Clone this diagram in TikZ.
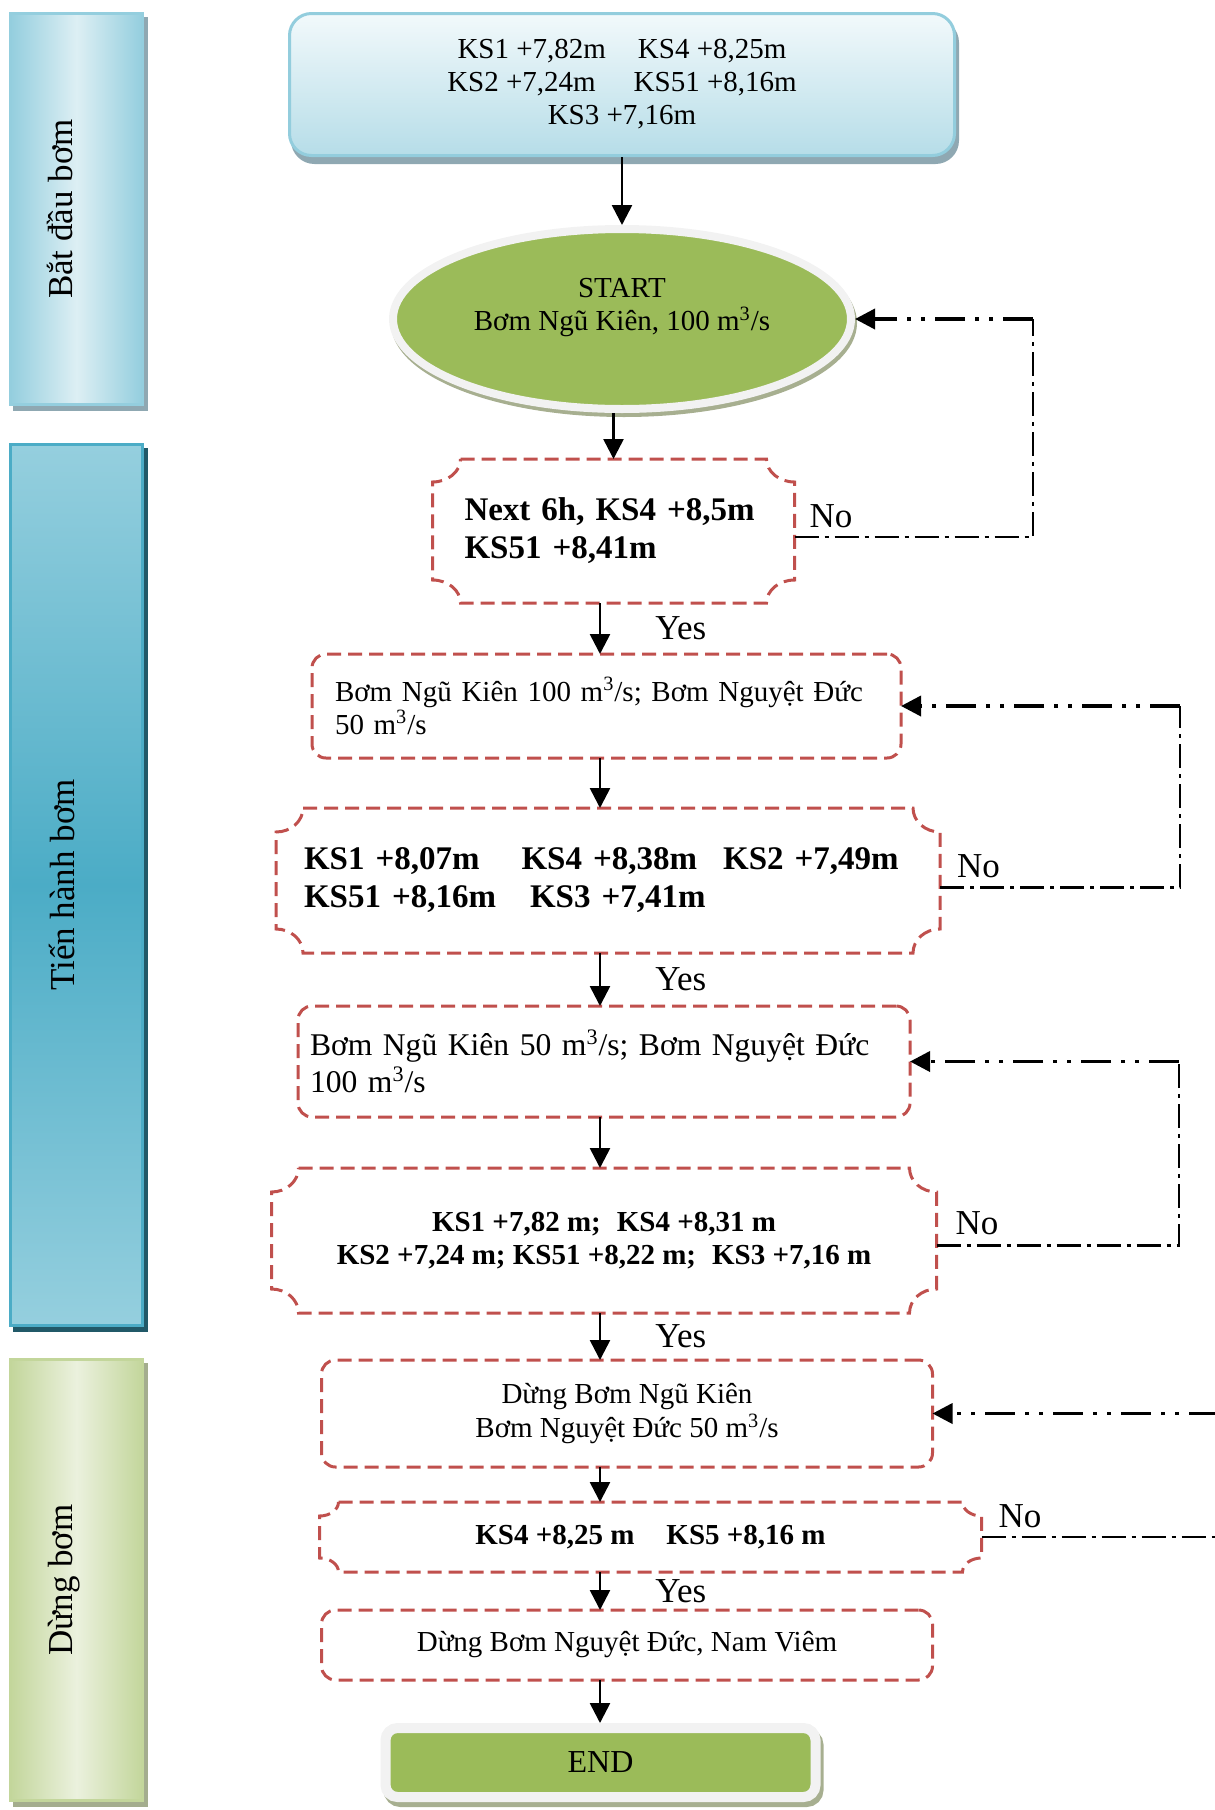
\documentclass[tikz,border=0pt]{standalone}
\usepackage{fontspec}
\setmainfont{Liberation Serif}
\usetikzlibrary{arrows.meta,positioning,shapes.geometric}
\usepackage{xcolor}
\definecolor{topedge}{HTML}{93CDDD}
\definecolor{toplight}{HTML}{F2F9FB}
\definecolor{topdark}{HTML}{B6DDE8}
\definecolor{topshadow}{HTML}{8FA8B2}
\definecolor{leafgreen}{HTML}{9BBB59}
\definecolor{rimgray}{HTML}{F2F2F2}
\definecolor{leafshadow}{HTML}{A7AF90}
\definecolor{checkred}{HTML}{C0504D}
\definecolor{phaseAedge}{HTML}{94CEDE}
\definecolor{phaseAlight}{HTML}{DDEFF4}
\definecolor{phaseBedge}{HTML}{4BACC6}
\definecolor{phaseBlight}{HTML}{95CFDE}
\definecolor{phaseBshadow}{HTML}{215968}
\definecolor{phaseCedge}{HTML}{C3D69B}
\definecolor{phaseClight}{HTML}{EBF1DE}
\definecolor{phaseCshadow}{HTML}{A4AD8E}

% dashed frame with concave corners round a check node
\newcommand{\plaqueframe}[3]{%
  \draw[plaqueline] ([xshift=#2]#1.north west) -- ([xshift=-#2]#1.north east)
    arc[start angle=180, end angle=270, x radius=#2, y radius=#3]
    -- ([yshift=#3]#1.south east)
    arc[start angle=90, end angle=180, x radius=#2, y radius=#3]
    -- ([xshift=#2]#1.south west)
    arc[start angle=0, end angle=90, x radius=#2, y radius=#3]
    -- ([yshift=-#3]#1.north west)
    arc[start angle=-90, end angle=0, x radius=#2, y radius=#3] -- cycle;}

\begin{document}
\begin{tikzpicture}[
  font=\fontsize{14.5}{16.5}\selectfont,
  phase/.style={draw, line width=1.5pt, minimum width=66pt},
  phaseshadow/.style={preaction={fill=#1, draw=#1, line width=1.5pt,
                      transform canvas={shift={(2pt,-2.5pt)}}}},
  phasetxt/.style={rotate=90, anchor=base, inner sep=0pt,
                   font=\fontsize{17.5}{20}\selectfont},
  levels/.style={draw=topedge, line width=1.5pt, rounded corners=11pt,
                 top color=toplight, bottom color=topdark, align=center,
                 minimum width=332.5pt, minimum height=71pt,
                 preaction={fill=topshadow, draw=topshadow, line width=1.5pt,
                            transform canvas={shift={(1.5pt,-3.5pt)}}}},
  startnode/.style={ellipse, fill=leafgreen, draw=rimgray, line width=4pt,
                    minimum width=229pt, minimum height=90pt, align=center,
                    preaction={fill=leafshadow, draw=leafshadow, line width=4pt,
                               transform canvas={shift={(1pt,-2pt)}}}},
  check/.style={rectangle, outer sep=0pt, inner ysep=2pt,
                font=\bfseries\fontsize{16.5}{19}\selectfont},
  act/.style={draw=checkred, line width=1.5pt, dash pattern=on 7pt off 3.5pt,
              rounded corners=7pt, outer sep=0pt, inner ysep=2pt},
  plaqueline/.style={draw=checkred, line width=1.5pt,
                     dash pattern=on 7pt off 3.5pt},
  finishnode/.style={rectangle, rounded corners=6pt, fill=leafgreen,
                     draw=rimgray, line width=5pt, minimum width=215pt,
                     minimum height=34.5pt, font=\fontsize{16}{18}\selectfont,
                     preaction={fill=leafshadow, draw=leafshadow, line width=5pt,
                                transform canvas={shift={(1.5pt,-2.5pt)}}}},
  flow/.style={-{Triangle[length=10pt, width=10pt]}, line width=1.3pt},
  back/.style={line width=1.2pt, dash pattern=on 12pt off 3pt on 2pt off 3pt},
  backin/.style={-{Triangle[length=10pt, width=10pt]}, line width=1.8pt,
                 dash pattern=on 15pt off 5pt on 2pt off 5pt on 2pt off 5pt},
  lbl/.style={inner sep=0pt, font=\fontsize{17.5}{20}\selectfont},
]
\useasboundingbox (0,0) rectangle (607.5pt,-905pt);

% phase bands
\node[phase, draw=phaseAedge, minimum height=195.5pt, phaseshadow=topshadow,
      left color=phaseAedge, right color=phaseAedge, middle color=phaseAlight]
      (phase1) at (38.25pt,-104.5pt) {};
\node[phase, draw=phaseBedge, minimum height=440.5pt, phaseshadow=phaseBshadow,
      top color=phaseBlight, bottom color=phaseBlight, middle color=phaseBedge,
      below=18.5pt of phase1] (phase2) {};
\node[phase, draw=phaseCedge, minimum height=220.5pt, phaseshadow=phaseCshadow,
      left color=phaseCedge, right color=phaseCedge, middle color=phaseClight,
      below=15.5pt of phase2] (phase3) {};
\node[phasetxt] (phase1txt) at ([xshift=-2pt]phase1.center) {Bắt đầu bơm};
\node[phasetxt] (phase2txt) at ([xshift=-1pt]phase2.center) {Tiến hành bơm};
\node[phasetxt] (phase3txt) at ([xshift=-2pt]phase3.center) {Dừng bơm};

% main column
\node[levels] (top) at (311pt,-42.25pt)
  {KS1 +7,82m\hspace{16pt}KS4 +8,25m\\KS2 +7,24m\hspace{19pt}KS51 +8,16m\\KS3 +7,16m};
\node[startnode, below=34pt of top] (start)
  {START\\Bơm Ngũ Kiên, 100 m\textsuperscript{3}/s\\[-2pt]\mbox{}};
\node[check, align=left, text width=149pt, inner xsep=16pt, minimum height=72pt,
      below=23pt of start, xshift=-4.25pt] (dec1)
  {Next 6h, KS4 +8,5m\\KS51 +8,41m};
\node[act, align=left, text width=271.5pt, inner xsep=11.5pt, minimum height=52pt,
      below=25.5pt of dec1, xshift=-3.5pt] (box2)
  {Bơm Ngũ Kiên 100 m\textsuperscript{3}/s; Bơm Nguyệt Đức\\50 m\textsuperscript{3}/s};
\node[check, align=left, text width=304pt, inner xsep=14pt, minimum height=72.5pt,
      below=25pt of box2, xshift=0.75pt] (dec2)
  {KS1 +8,07m\hspace{21pt}KS4 +8,38m\hspace{13pt}KS2 +7,49m\\KS51 +8,16m\hspace{17pt}KS3 +7,41m};
\node[act, align=left, text width=294pt, inner xsep=6pt, minimum height=55.5pt,
      font=\fontsize{15.8}{18.5}\selectfont,
      below=26.5pt of dec2, xshift=-2pt] (box3)
  {\mbox{Bơm Ngũ Kiên 50 m\textsuperscript{3}/s; Bơm Nguyệt Đức}\\100 m\textsuperscript{3}/s};
\node[check, align=center, minimum width=332.5pt, minimum height=72.5pt,
      font=\bfseries\fontsize{14.5}{16.5}\selectfont,
      below=25.5pt of box3] (dec3)
  {KS1 +7,82 m;\hspace{8pt}KS4 +8,31 m\\KS2 +7,24 m; KS51 +8,22 m;\hspace{8pt}KS3 +7,16 m};
\node[act, align=center, minimum width=305.5pt, minimum height=53.5pt,
      font=\fontsize{14.5}{17}\selectfont,
      below=23.5pt of dec3, xshift=11.5pt] (box4)
  {Dừng Bơm Ngũ Kiên\\Bơm Nguyệt Đức 50 m\textsuperscript{3}/s};
\node[check, align=center, minimum width=331pt, minimum height=35pt,
      font=\bfseries\fontsize{14.5}{16.5}\selectfont,
      below=17.5pt of box4, xshift=11.75pt] (dec4)
  {KS4 +8,25 m\hspace{16pt}KS5 +8,16 m};
\node[act, align=center, minimum width=305.5pt, minimum height=35pt,
      below=19pt of dec4, xshift=-11.75pt] (box5)
  {Dừng Bơm Nguyệt Đức, Nam Viêm};
\node[finishnode, below=21.5pt of box5, xshift=-13.25pt] (finish) {END};

\plaqueframe{dec1}{14pt}{11.5pt}
\plaqueframe{dec2}{13.5pt}{12pt}
\plaqueframe{dec3}{13.5pt}{12pt}
\plaqueframe{dec4}{9.5pt}{7pt}

% downward flow
\coordinate (axis) at (300pt,0);
\draw[flow] (top) -- (start);
\draw[flow] (start.south -| dec1.north) -- (dec1.north);
\foreach \a/\b in {box2/dec2, box3/dec3, box4/dec4, box5/finish}
  \draw[flow] (\a.south -| axis) -- (\b.north -| axis);
\foreach \a/\b in {dec1/box2, dec2/box3, dec3/box4, dec4/box5}
  \draw[flow] (\a.south -| axis) -- node[lbl, right=27pt] {Yes} (\b.north -| axis);

% loops back on "No"
\coordinate[right=89pt of start.east] (fb1);
\coordinate[right=139.5pt of box2.east] (fb2);
\coordinate[right=134.5pt of box3.east] (fb3);
\coordinate[right=143pt of box4.east] (fb4in);
\coordinate[right=118pt of dec4.east] (fb4out);

\draw[back] ([yshift=-3pt]dec1.east) node[lbl, above right=4pt and 7pt] {No} -| (fb1);
\draw[backin] (fb1) -- (start.east);
\draw[back] ([yshift=-3.5pt]dec2.east) node[lbl, above right=4pt and 8pt] {No} -| (fb2);
\draw[backin] (fb2) -- (box2.east);
\draw[back] ([yshift=-2.5pt]dec3.east) node[lbl, above right=4.5pt and 9pt] {No} -| (fb3);
\draw[backin] (fb3) -- (box3.east);
\draw[backin] (fb4in) -- (box4.east);
\draw[back] (dec4.east) node[lbl, above right=4pt and 8pt] {No} -- (fb4out);

\end{tikzpicture}
\end{document}
